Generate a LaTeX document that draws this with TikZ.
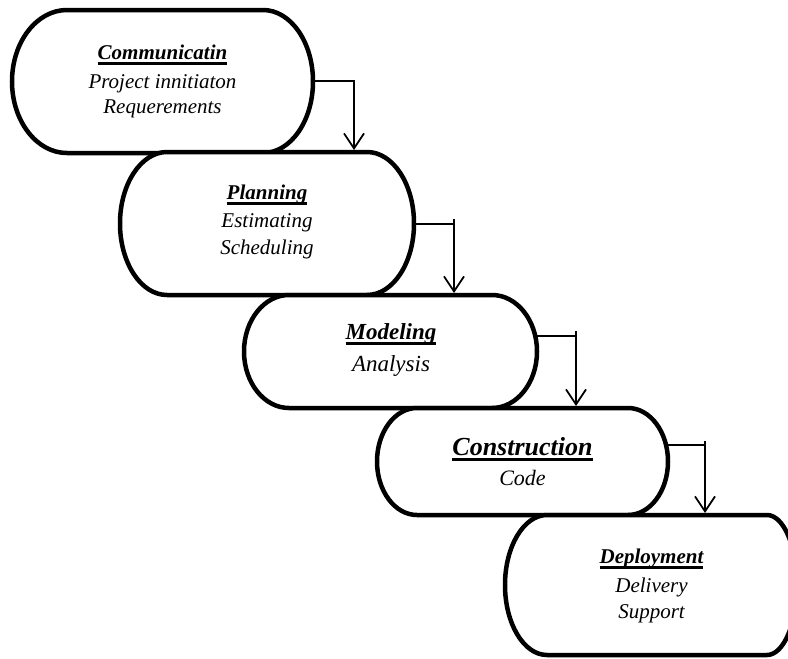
\documentclass[tikz,border=0pt]{standalone}
\usepackage{fontspec}
\setmainfont{Liberation Serif}
\usetikzlibrary{arrows.meta}
\newcommand\ttl[1]{\setbox0\hbox{\bfseries\itshape #1}\leavevmode\rlap{\rule[-5pt]{\wd0}{2.6pt}}\box0}
% #1 left, #2 top, #3 right, #4 bottom, #5 left x-radius, #6 right x-radius, #7 y-radius
\newcommand\drawcapsule[7]{\draw[capsule] (#1+#5,#2) -- (#3-#6,#2)
  arc[start angle=90,end angle=-90,x radius=#6pt,y radius=#7pt] -- (#1+#5,#4)
  arc[start angle=270,end angle=90,x radius=#5pt,y radius=#7pt] -- cycle;}
\begin{document}
\begin{tikzpicture}[x=1pt,y=-1pt,
  capsule/.style={line width=4.5pt, draw=black, fill=white},
  lbl/.style={align=center, inner sep=0pt},
  conn/.style={line width=1.8pt, draw=black},
  arr/.style={conn, -{Straight Barb[length=15pt,width=20pt,line width=1.8pt]}}]
\clip (0,0) rectangle (788,659);
\fill[white] (0,0) rectangle (788,659);
% boxes
\drawcapsule{12}{10}{313}{153}{55}{50}{71.5}
\node[lbl, font=\fontsize{21}{25}\selectfont\itshape] (b1) at (162.5,81.5)
  {\ttl{Communicatin}\\[4pt] Project innitiaton\\ Requerements};
\drawcapsule{120}{152}{414}{295}{47}{47}{71.5}
\node[lbl, font=\fontsize{21}{27.5}\selectfont\itshape] (b2) at (267,222)
  {\ttl{Planning}\\ Estimating\\ Scheduling};
\drawcapsule{244}{295}{537}{408}{45}{45}{56.5}
\node[lbl, font=\fontsize{23}{32}\selectfont\itshape] (b3) at (391,350)
  {\ttl{Modeling}\\ Analysis};
\drawcapsule{377}{408}{668}{515}{40}{40}{53.5}
\node[lbl, font=\fontsize{22}{30}\selectfont\itshape] (b4) at (522.5,462)
  {{\fontsize{26}{30}\selectfont\ttl{Construction}}\\ Code};
\drawcapsule{505}{515}{797}{655}{42}{30}{70}
\node[lbl, font=\fontsize{21}{26}\selectfont\itshape] (b5) at (651.5,586)
  {\ttl{Deployment}\\[3pt] Delivery\\ Support};
% connector points
\coordinate (b1r) at (313,81);
\coordinate (b2t) at (354,150);
\coordinate (b2r) at (414,224);
\coordinate (k2) at (454,219);
\coordinate (b3t) at (454,293);
\coordinate (b3r) at (535,336);
\coordinate (k3) at (576,331);
\coordinate (b4t) at (576,406);
\coordinate (b4r) at (666,445);
\coordinate (k4) at (705,441);
\coordinate (b5t) at (705,513);
% connectors
\draw[arr] (b1r) -| (b2t);
\draw[conn] (b2r) -- (b2r -| k2);
\draw[arr] (k2) -- (b3t);
\draw[conn] (b3r) -- (b3r -| k3);
\draw[arr] (k3) -- (b4t);
\draw[conn] (b4r) -- (b4r -| k4);
\draw[arr] (k4) -- (b5t);
\end{tikzpicture}
\end{document}
